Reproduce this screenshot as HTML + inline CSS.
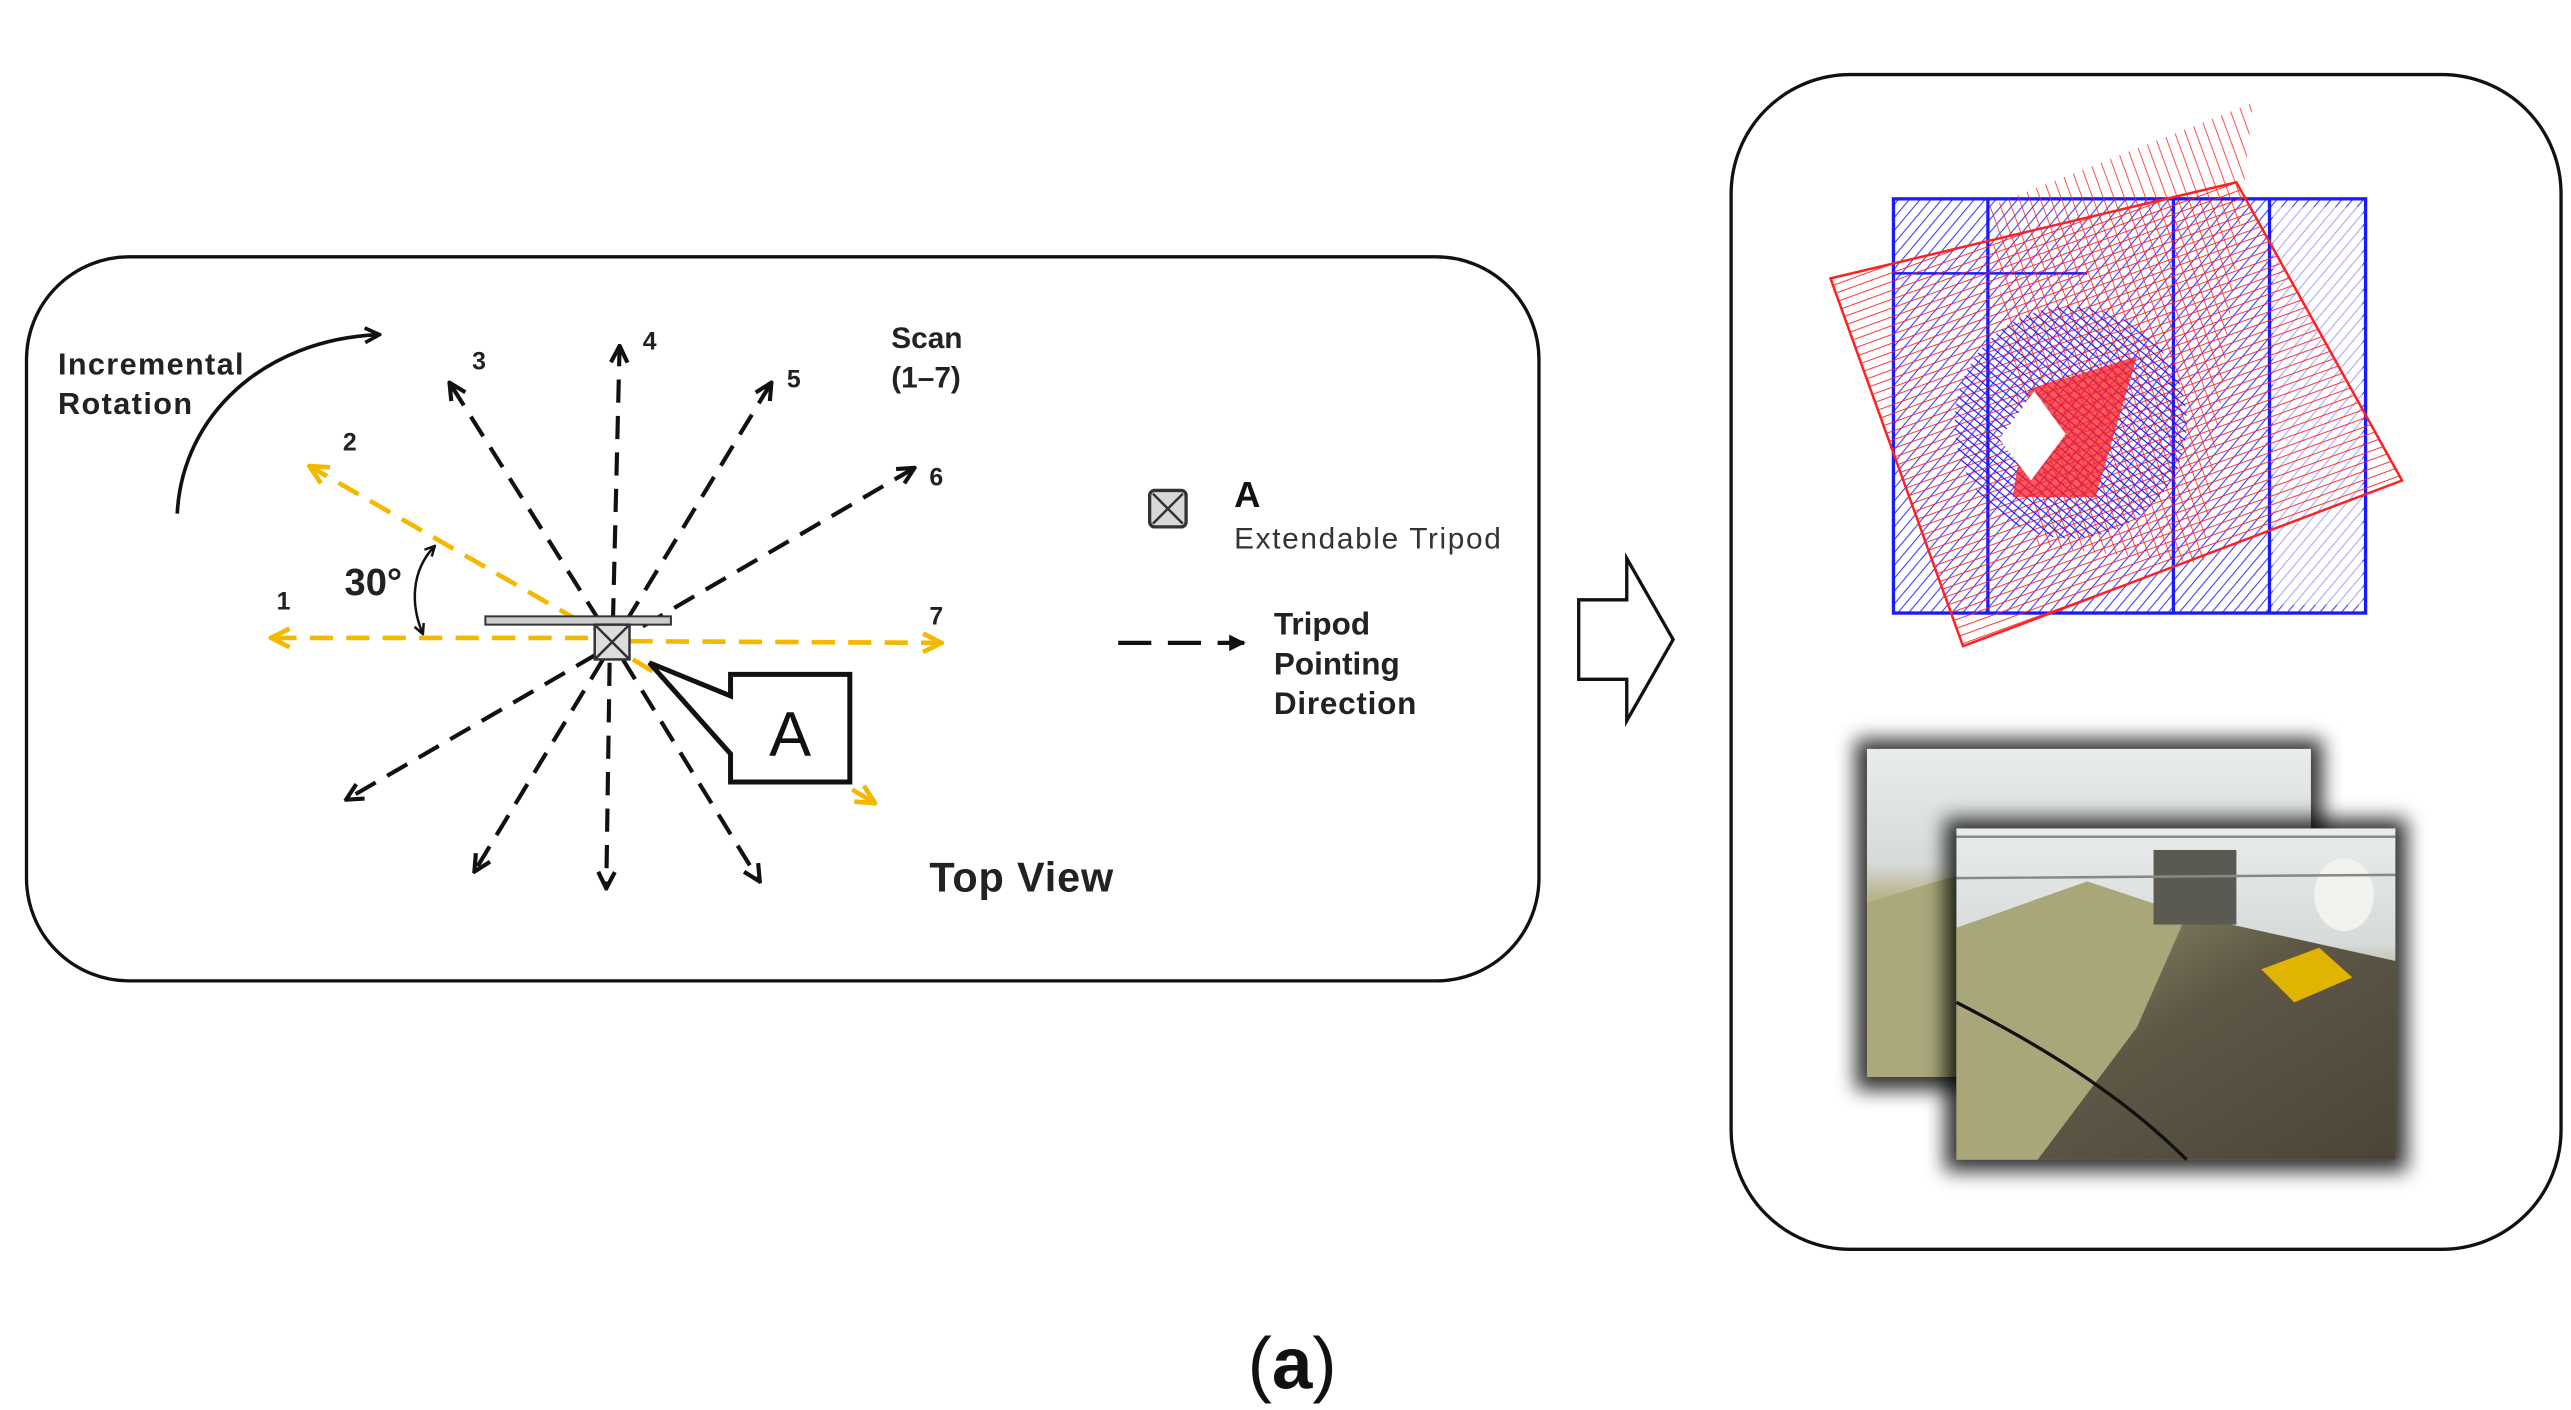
<!DOCTYPE html>
<html><head><meta charset="utf-8"><style>
html,body{margin:0;padding:0;background:#fff;}
svg{display:block;}
text{font-family:"Liberation Sans",Arial,sans-serif;}
</style></head><body>
<svg width="2571" height="1410" viewBox="0 0 1552 851" preserveAspectRatio="none" xmlns="http://www.w3.org/2000/svg">
<defs>
<marker id="ab" viewBox="0 0 10 10" refX="8" refY="5" markerWidth="5" markerHeight="5" orient="auto-start-reverse"><path d="M1,1 L9,5 L1,9" fill="none" stroke="#111" stroke-width="2"/></marker>
<marker id="ay" viewBox="0 0 10 10" refX="8" refY="5" markerWidth="5" markerHeight="5" orient="auto-start-reverse"><path d="M1,1 L9,5 L1,9" fill="none" stroke="#f5b800" stroke-width="2"/></marker>
<marker id="af" viewBox="0 0 10 10" refX="9" refY="5" markerWidth="4" markerHeight="4" orient="auto"><path d="M0,0 L10,5 L0,10z" fill="#111"/></marker>
<pattern id="hb" width="5" height="5" patternUnits="userSpaceOnUse" patternTransform="rotate(40)"><line x1="0" y1="0" x2="0" y2="5" stroke="#1a1aff" stroke-width="1.3"/></pattern>
<pattern id="hb2" width="4" height="4" patternUnits="userSpaceOnUse" patternTransform="rotate(-50)"><line x1="0" y1="0" x2="0" y2="4" stroke="#1a1aff" stroke-width="1.4"/></pattern>
<pattern id="hr" width="5" height="5" patternUnits="userSpaceOnUse" patternTransform="rotate(70)"><line x1="0" y1="0" x2="0" y2="5" stroke="#ff2020" stroke-width="1.2"/></pattern>
<pattern id="hr2" width="6" height="6" patternUnits="userSpaceOnUse" patternTransform="rotate(-20)"><line x1="0" y1="0" x2="0" y2="6" stroke="#ff2020" stroke-width="1.2"/></pattern>
<filter id="sh" x="-20%" y="-20%" width="140%" height="140%"><feGaussianBlur stdDeviation="6"/></filter>
<linearGradient id="ph1" x1="0" y1="0" x2="0" y2="1"><stop offset="0" stop-color="#e8ecec"/><stop offset="0.35" stop-color="#d6dad8"/><stop offset="0.45" stop-color="#b8b48c"/><stop offset="1" stop-color="#7d7a55"/></linearGradient>
<linearGradient id="ph2" x1="0" y1="0" x2="1" y2="1"><stop offset="0" stop-color="#a9a677"/><stop offset="0.5" stop-color="#5e5746"/><stop offset="1" stop-color="#4a4538"/></linearGradient>
</defs>

<rect x="16" y="155" width="913" height="437" rx="62" fill="none" stroke="#111" stroke-width="2"/>

<path d="M107,310 C110,250 160,205 228,202" fill="none" stroke="#111" stroke-width="2.2" marker-end="url(#ab)"/>
<text x="35" y="226" font-size="18.5" font-weight="bold" fill="#222" textLength="112">Incremental</text>
<text x="35" y="250" font-size="18.5" font-weight="bold" fill="#222" textLength="81">Rotation</text>

<g stroke="#111" stroke-width="2.5" stroke-dasharray="14,8" fill="none" marker-end="url(#ab)">
<line x1="362" y1="375" x2="272" y2="232"/>
<line x1="370" y1="375" x2="374" y2="210"/>
<line x1="378" y1="375" x2="465" y2="232"/>
<line x1="388" y1="378" x2="551" y2="283"/>
<line x1="360" y1="395" x2="210" y2="482"/>
<line x1="364" y1="398" x2="287" y2="525"/>
<line x1="368" y1="400" x2="366" y2="535"/>
<line x1="376" y1="398" x2="458" y2="531"/>
</g>
<g stroke="#f5b800" stroke-width="2.8" stroke-dasharray="14,8" fill="none" marker-end="url(#ay)">
<line x1="355" y1="385" x2="165" y2="385"/>
<line x1="380" y1="387" x2="567" y2="388"/>
<line x1="350" y1="375" x2="188" y2="282"/>
<line x1="382" y1="398" x2="527" y2="484"/>
</g>
<path d="M262,330 C248,345 248,365 255,382" fill="none" stroke="#111" stroke-width="1.5" marker-start="url(#ab)" marker-end="url(#ab)"/>
<text x="208" y="359" font-size="23" font-weight="bold" fill="#222">30°</text>

<rect x="293" y="372" width="112" height="5" fill="#ccc" stroke="#333" stroke-width="1.2"/>
<rect x="359" y="377" width="21" height="21" fill="#ddd" stroke="#333" stroke-width="1.5"/>
<path d="M359,377 L380,398 M380,377 L359,398" stroke="#333" stroke-width="1.5"/>

<path d="M392,400 L441,420 L441,407 L513,407 L513,472 L441,472 L441,455 Z" fill="#fff" stroke="#111" stroke-width="3"/>
<text x="477" y="456" font-size="38" text-anchor="middle" fill="#111">A</text>

<g font-size="15" font-weight="bold" fill="#222">
<text x="167" y="368">1</text>
<text x="207" y="272">2</text>
<text x="285" y="223">3</text>
<text x="388" y="211">4</text>
<text x="475" y="234">5</text>
<text x="561" y="293">6</text>
<text x="561" y="377">7</text>
</g>
<text x="538" y="210" font-size="18" font-weight="bold" fill="#222">Scan</text>
<text x="538" y="234" font-size="18" font-weight="bold" fill="#222">(1–7)</text>

<rect x="694" y="296" width="22" height="22" rx="3" fill="#d8d8d8" stroke="#333" stroke-width="2"/>
<path d="M696,298 L714,316 M714,298 L696,316" stroke="#333" stroke-width="1.5"/>
<text x="745" y="306" font-size="22" font-weight="bold" fill="#111">A</text>
<text x="745" y="331" font-size="18" fill="#333" textLength="161">Extendable Tripod</text>
<line x1="675" y1="388" x2="751" y2="388" stroke="#111" stroke-width="2.5" stroke-dasharray="20,10" marker-end="url(#af)"/>
<g font-size="19" font-weight="bold" fill="#222">
<text x="769" y="383">Tripod</text>
<text x="769" y="407">Pointing</text>
<text x="769" y="431" textLength="86">Direction</text>
</g>
<text x="561" y="538" font-size="25" font-weight="bold" fill="#222" textLength="111">Top View</text>

<path d="M953,362 L982,362 L982,337 L1010,386 L982,435 L982,410 L953,410 Z" fill="#fff" stroke="#111" stroke-width="2"/>

<rect x="1045" y="45" width="501" height="709" rx="72" fill="none" stroke="#111" stroke-width="2"/>

<g>
<rect x="1143" y="120" width="285" height="250" fill="url(#hb)" opacity="0.85"/>
<rect x="1143" y="120" width="285" height="250" fill="none" stroke="#1a1aff" stroke-width="2"/>
<line x1="1200" y1="120" x2="1200" y2="370" stroke="#1a1aff" stroke-width="2"/>
<line x1="1312" y1="120" x2="1312" y2="370" stroke="#1a1aff" stroke-width="2"/>
<line x1="1370" y1="120" x2="1370" y2="370" stroke="#1a1aff" stroke-width="2"/>
<line x1="1143" y1="165" x2="1260" y2="165" stroke="#1a1aff" stroke-width="1.5"/>
<rect x="1372" y="125" width="54" height="240" fill="#fff" opacity="0.55"/>
<polygon points="1105,168 1350,110 1450,290 1185,390" fill="url(#hr)" opacity="0.9"/>
<polygon points="1105,168 1350,110 1450,290 1185,390" fill="none" stroke="#ff2020" stroke-width="1.5"/>
<polygon points="1200,125 1360,62 1330,340 1230,330" fill="url(#hr2)" opacity="0.8"/>
<circle cx="1250" cy="255" r="70" fill="url(#hb2)"/>
<polygon points="1225,235 1290,215 1265,300 1215,300" fill="#ff2020" opacity="0.75"/>
<polygon points="1207,265 1228,236 1247,262 1226,290" fill="#fff"/>
</g>

<rect x="1120" y="446" width="282" height="212" fill="#000" filter="url(#sh)" opacity="0.8"/>
<rect x="1127" y="452" width="268" height="198" fill="url(#ph1)"/>
<path d="M1127,545 C1160,535 1200,520 1240,520 L1240,650 L1127,650 Z" fill="#aaa97c"/>
<rect x="1174" y="494" width="279" height="213" fill="#000" filter="url(#sh)" opacity="0.8"/>
<rect x="1181" y="500" width="265" height="200" fill="url(#ph1)"/>
<path d="M1181,560 L1260,532 L1320,552 L1446,580 L1446,700 L1181,700 Z" fill="url(#ph2)"/>
<path d="M1181,560 L1260,532 L1320,552 L1290,620 L1230,700 L1181,700 Z" fill="#a9a77a"/>
<rect x="1300" y="513" width="50" height="45" fill="#5a5a52"/>
<ellipse cx="1415" cy="540" rx="18" ry="22" fill="#f2f2ee"/>
<polygon points="1365,585 1400,572 1420,590 1385,605" fill="#e0b400"/>
<path d="M1181,605 C1230,630 1280,660 1320,700" stroke="#111" stroke-width="2" fill="none"/>
<path d="M1181,505 L1446,505 M1181,530 L1446,528" stroke="#888" stroke-width="1.5"/>

<text x="780" y="838" font-size="44" font-family="Liberation Serif, serif" text-anchor="middle" fill="#111">(<tspan font-weight="bold">a</tspan>)</text>
</svg>
</body></html>
